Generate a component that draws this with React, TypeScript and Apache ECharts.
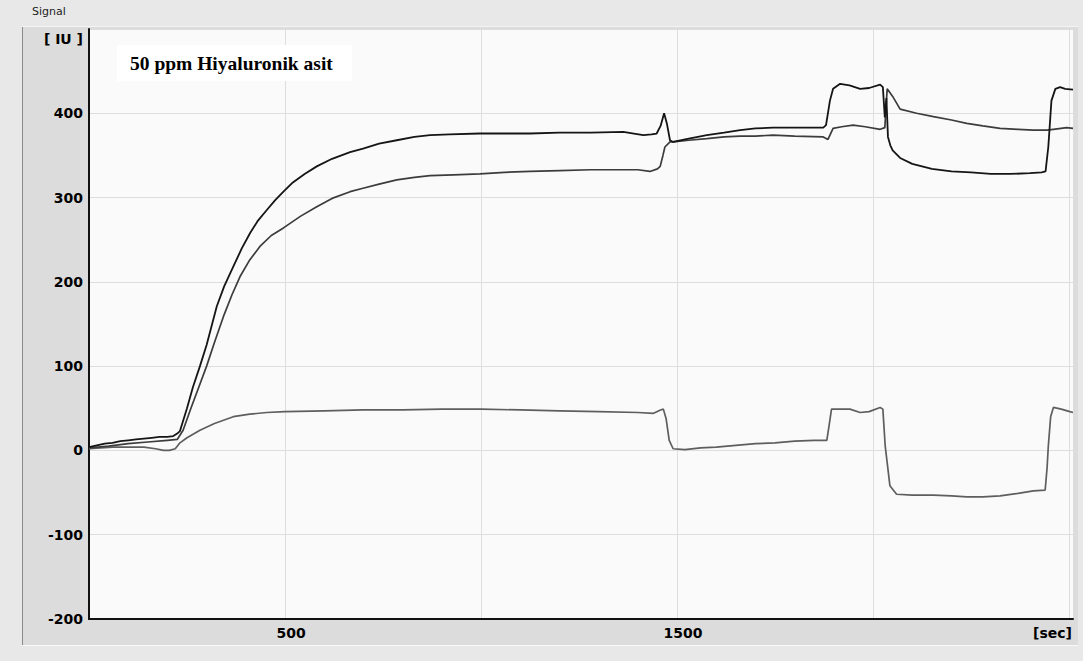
import React, { useEffect, useRef } from "react";
import * as echarts from "echarts";

// Sensor response over time [sec, IU]
const channelA: [number, number][] = [
  [0, 4], [20, 6], [40, 8], [60, 9], [80, 11], [100, 12], [120, 13], [140, 14], [160, 15], [180, 16],
  [200, 16], [215, 17], [225, 20], [232, 23], [250, 50], [265, 75], [283, 100], [300, 125], [326, 171],
  [345, 195], [368, 218], [390, 240], [411, 258], [430, 272], [453, 285], [475, 297], [496, 307],
  [520, 318], [550, 328], [581, 337], [620, 346], [666, 354], [699, 358], [740, 364], [785, 368],
  [830, 372], [870, 374], [920, 375], [997, 376], [1060, 376], [1125, 376], [1200, 377], [1280, 377],
  [1363, 378], [1390, 376], [1414, 374], [1435, 375], [1448, 376], [1458, 385], [1467, 400],
  [1474, 388], [1482, 368], [1490, 366], [1530, 370], [1576, 374], [1620, 377], [1661, 380],
  [1700, 382], [1745, 383], [1800, 383], [1850, 383], [1873, 383], [1880, 386], [1890, 415],
  [1898, 429], [1916, 435], [1940, 433], [1967, 429], [1990, 430], [2018, 434], [2025, 431],
  [2030, 395], [2034, 418], [2038, 372], [2044, 362], [2050, 356], [2069, 347], [2100, 340],
  [2150, 334], [2200, 331], [2250, 330], [2300, 328], [2350, 328], [2400, 329], [2430, 330],
  [2440, 331], [2447, 360], [2455, 415], [2465, 429], [2477, 431], [2490, 429], [2510, 428],
];

const channelB: [number, number][] = [
  [0, 3], [50, 5], [100, 8], [150, 10], [200, 12], [225, 13], [240, 24], [260, 50], [280, 75],
  [300, 100], [320, 128], [343, 159], [365, 185], [385, 206], [410, 226], [436, 242], [465, 255],
  [496, 264], [540, 278], [581, 289], [620, 299], [666, 307], [699, 311], [740, 316], [785, 321],
  [830, 324], [870, 326], [930, 327], [997, 328], [1060, 330], [1125, 331], [1200, 332], [1280, 333],
  [1363, 333], [1400, 333], [1431, 331], [1450, 334], [1457, 337], [1464, 350], [1469, 360],
  [1482, 366], [1490, 366], [1530, 368], [1576, 370], [1620, 372], [1661, 373], [1700, 373],
  [1745, 374], [1800, 373], [1873, 372], [1885, 369], [1898, 382], [1920, 384], [1949, 386],
  [1980, 384], [2018, 381], [2030, 383], [2036, 429], [2050, 420], [2069, 405], [2111, 400],
  [2154, 396], [2200, 392], [2239, 388], [2280, 385], [2324, 382], [2370, 381], [2409, 380],
  [2443, 380], [2460, 381], [2494, 383], [2510, 382],
];

const difference: [number, number][] = [
  [0, 2], [30, 3], [60, 4], [100, 4], [140, 4], [170, 2], [190, 0], [205, 0], [220, 2], [232, 9],
  [250, 15], [283, 24], [320, 32], [368, 40], [410, 43], [453, 45], [500, 46], [600, 47], [700, 48],
  [800, 48], [900, 49], [1000, 49], [1100, 48], [1200, 47], [1300, 46], [1400, 45], [1440, 44],
  [1458, 48], [1465, 49], [1472, 38], [1480, 12], [1490, 2], [1520, 1], [1560, 3], [1600, 4],
  [1650, 6], [1700, 8], [1750, 9], [1800, 11], [1850, 12], [1882, 12], [1888, 30], [1894, 49],
  [1941, 49], [1967, 45], [1990, 46], [2018, 51], [2025, 49], [2031, 5], [2043, -42], [2060, -52],
  [2100, -53], [2154, -53], [2200, -54], [2239, -55], [2280, -55], [2324, -54], [2370, -51],
  [2409, -48], [2439, -47], [2444, -20], [2447, 5], [2453, 40], [2460, 51], [2480, 49], [2502, 46],
  [2510, 45],
];

const xTickLabels = [500, 1500];
const titleText = "Signal";
const yUnit = "[ IU ]";
const xUnit = "[sec]";
const note = "50 ppm Hiyaluronik asit";

export default function App() {
  const ref = useRef<HTMLDivElement>(null);

  useEffect(() => {
    if (!ref.current) return;
    const chart = echarts.init(ref.current, null, { renderer: "svg" });
    const axisFont = { fontFamily: "DejaVu Sans", fontWeight: "bold" as const, fontSize: 14, color: "#000" };

    chart.setOption({
      animation: false,
      backgroundColor: "#e8e8e8",
      grid: {
        left: 89,
        top: 29,
        right: 10,
        bottom: 42,
        show: true,
        backgroundColor: "#fafafa",
        borderWidth: 0,
      },
      xAxis: {
        type: "value",
        min: 0,
        max: 2510,
        interval: 500,
        axisLine: { show: true, onZero: false, lineStyle: { color: "#111", width: 2 } },
        axisTick: { show: false },
        splitLine: { show: true, lineStyle: { color: "#dedede", width: 1 } },
        axisLabel: {
          ...axisFont,
          margin: 7,
          padding: [0, 0, 0, 12],
          showMaxLabel: false,
          formatter: (v: number) => (xTickLabels.includes(v) ? String(v) : ""),
        },
      },
      yAxis: {
        type: "value",
        min: -200,
        max: 500,
        interval: 100,
        axisLine: { show: true, onZero: false, lineStyle: { color: "#111", width: 2 } },
        axisTick: { show: false },
        splitLine: { show: true, lineStyle: { color: "#dedede", width: 1 } },
        axisLabel: {
          ...axisFont,
          margin: 6,
          formatter: (v: number) => (v === 500 ? "" : String(v)),
        },
      },
      graphic: [
        {
          type: "rect",
          z: -1,
          shape: { x: 22, y: 26, width: 1056, height: 620 },
          style: { fill: "#dcdcdc" },
        },
        { type: "line", z: -1, shape: { x1: 22.5, y1: 26, x2: 22.5, y2: 646 }, style: { stroke: "#8a8a8a", lineWidth: 1 } },
        { type: "line", z: -1, shape: { x1: 22, y1: 26.5, x2: 1078, y2: 26.5 }, style: { stroke: "#f4f4f4", lineWidth: 1 } },
        { type: "line", z: -1, shape: { x1: 22, y1: 645.5, x2: 1078, y2: 645.5 }, style: { stroke: "#f8f8f8", lineWidth: 1 } },
        {
          type: "text",
          x: 32,
          y: 6,
          style: { text: titleText, fontFamily: "DejaVu Sans", fontSize: 11, fill: "#222" },
        },
        {
          type: "text",
          z: 5,
          x: 83,
          y: 32,
          style: { text: yUnit, ...axisFont, fill: "#000", align: "right", verticalAlign: "top" },
        },
        {
          type: "text",
          x: 1072,
          y: 626,
          style: { text: xUnit, ...axisFont, fill: "#000", align: "right", verticalAlign: "top" },
        },
        {
          type: "rect",
          z: 10,
          shape: { x: 117, y: 45, width: 235, height: 36 },
          style: { fill: "#ffffff" },
        },
        {
          type: "text",
          z: 11,
          x: 130,
          y: 63,
          style: {
            text: note,
            fontFamily: "Liberation Serif",
            fontWeight: "bold",
            fontSize: 19.5,
            fill: "#000",
            verticalAlign: "middle",
          },
        },
      ],
      series: [
        {
          type: "line",
          data: difference,
          showSymbol: false,
          lineStyle: { color: "#5e5e5e", width: 1.7 },
          z: 2,
        },
        {
          type: "line",
          data: channelB,
          showSymbol: false,
          lineStyle: { color: "#3c3c3c", width: 1.7 },
          z: 3,
        },
        {
          type: "line",
          data: channelA,
          showSymbol: false,
          lineStyle: { color: "#151515", width: 1.8 },
          z: 4,
        },
      ],
    });

    return () => chart.dispose();
  }, []);

  return (
    <div
      ref={ref}
      style={{ position: "absolute", left: 0, top: 0, width: 1083, height: 661 }}
    />
  );
}
